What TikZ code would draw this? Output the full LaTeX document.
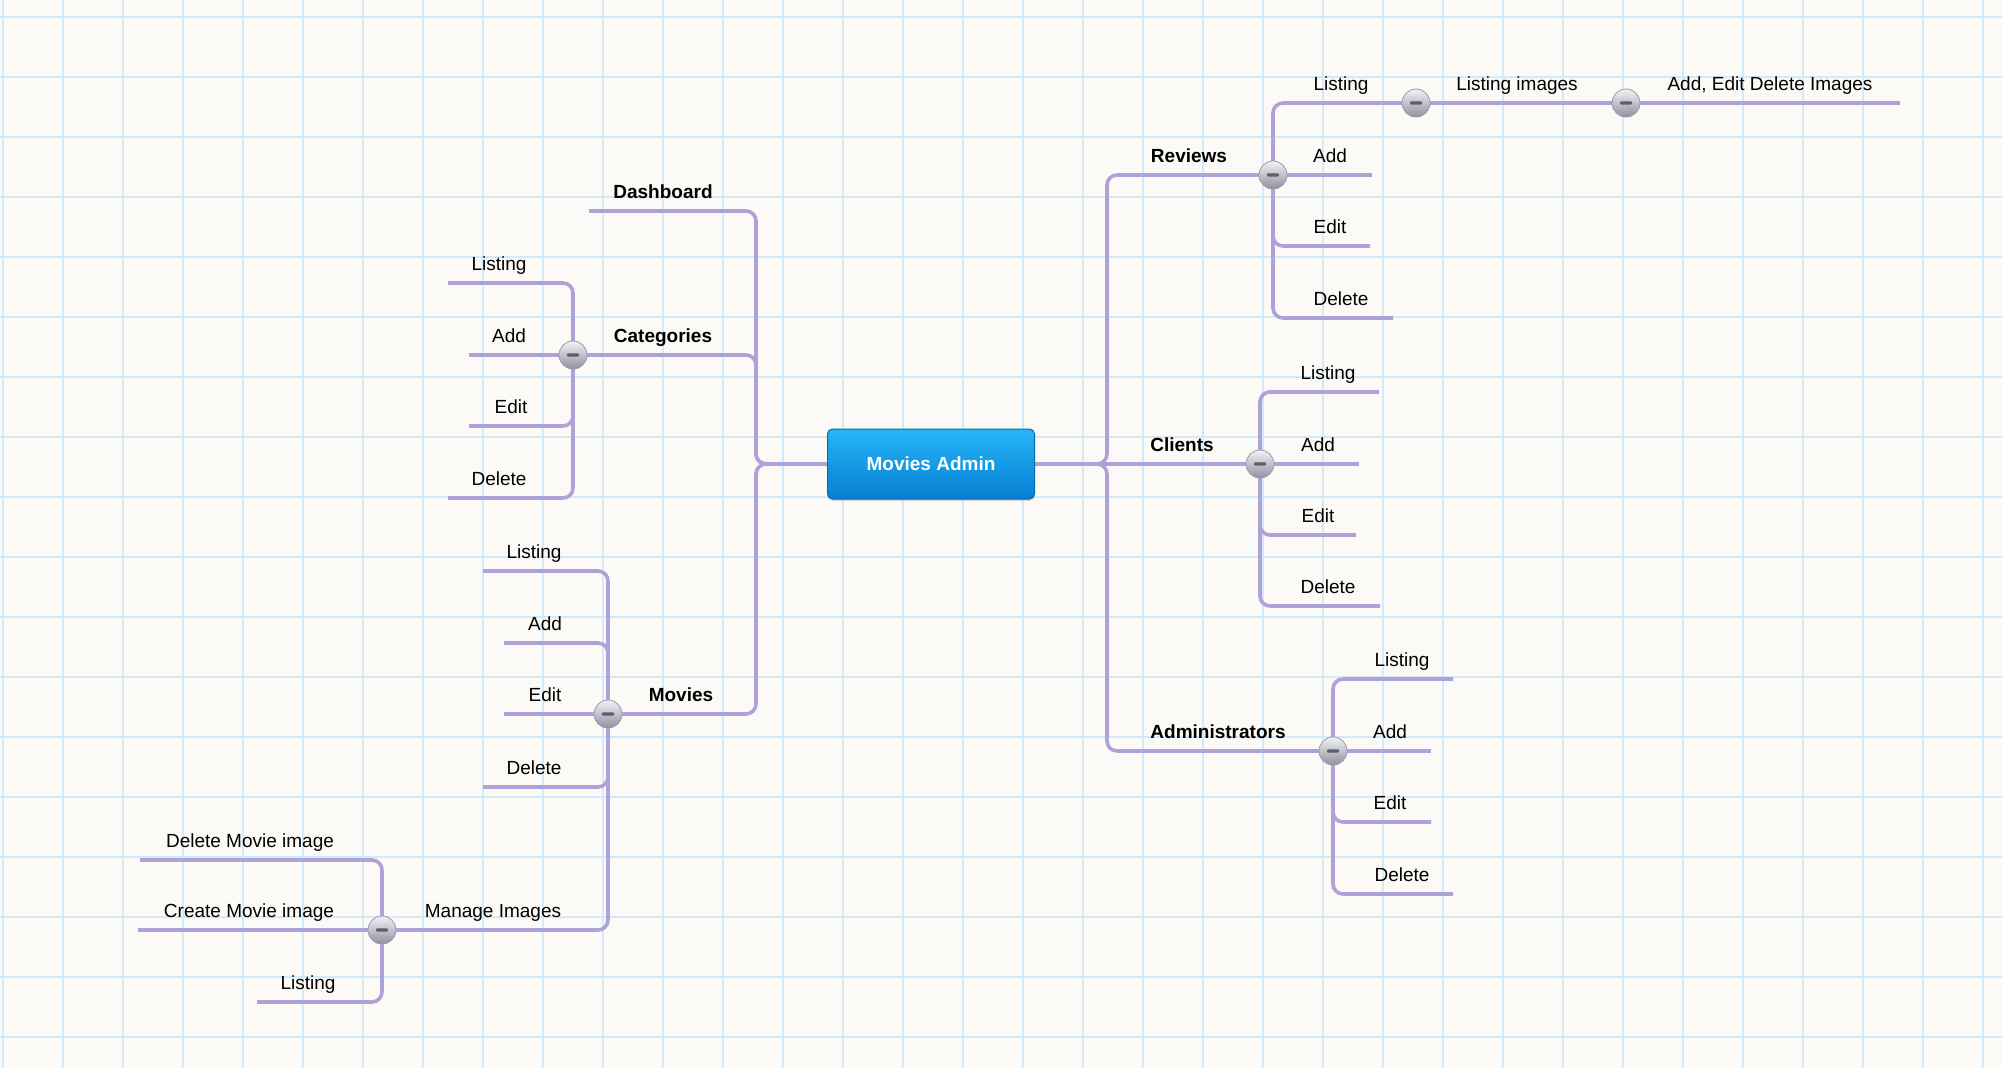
\documentclass[tikz,border=0pt]{standalone}
\usepackage{fontspec}
\setmainfont{Liberation Sans}
\usetikzlibrary{shadows}
\definecolor{bgc}{HTML}{FBFAF6}
\definecolor{gridc}{HTML}{D3EAFA}
\definecolor{linec}{HTML}{B0A2D8}
\definecolor{knobtop}{HTML}{F2F2F5}
\definecolor{knobbot}{HTML}{9090A0}
\definecolor{knobedge}{HTML}{9A9AAA}
\definecolor{knobbar}{HTML}{5E5E6C}
\definecolor{roottop}{HTML}{26B6F6}
\definecolor{rootbot}{HTML}{067FD3}
\definecolor{rootedge}{HTML}{0A68AA}
\pgfdeclarelayer{bg}
\pgfsetlayers{bg,main}
\begin{document}
\begin{tikzpicture}[x=1pt,y=-1pt,
  conn/.style={draw=linec, line width=3.6pt, rounded corners=10pt},
  lbl/.style={anchor=base, inner sep=0pt, font=\fontsize{19}{23}\selectfont},
  plbl/.style={anchor=base, inner sep=0pt, font=\fontsize{19}{23}\selectfont\bfseries},
  knob/.style={circle, minimum size=28pt, inner sep=0pt, draw=knobedge, line width=0.8pt,
    top color=knobtop, bottom color=knobbot,
    path picture={\fill[knobbar, rounded corners=1pt]
      ([xshift=-6pt,yshift=-1.6pt]path picture bounding box.center) rectangle
      ([xshift=6pt,yshift=1.6pt]path picture bounding box.center);}},
  rootbox/.style={rounded corners=5pt, minimum width=207pt, minimum height=70pt,
    top color=roottop, bottom color=rootbot, draw=rootedge, line width=1pt,
    text=white, font=\fontsize{19}{23}\selectfont\bfseries,
    drop shadow={opacity=0.25, shadow xshift=0pt, shadow yshift=-2pt}}
]
\useasboundingbox (0,0) rectangle (2002,1068);

% ---------- root ----------
\node[rootbox] (root) at (931,464) {Movies Admin};

% ---------- knobs ----------
\node[knob] (catC) at (573,355) {};
\node[knob] (movC) at (608,714) {};
\node[knob] (mgC)  at (382,930) {};
\node[knob] (revC) at (1273,175) {};
\node[knob] (lstC) at (1416,103) {};
\node[knob] (liC)  at (1626,103) {};
\node[knob] (cliC) at (1260,464) {};
\node[knob] (admC) at (1333,751) {};

% ---------- free ends ----------
\coordinate (dashE) at (589,211);
\coordinate (catL) at (448,283);
\coordinate (catA) at (469,355);
\coordinate (catE) at (469,426);
\coordinate (catD) at (448,498);
\coordinate (movL) at (483,571);
\coordinate (movA) at (504,643);
\coordinate (movE) at (504,714);
\coordinate (movD) at (483,787);
\coordinate (mgD) at (140,860);
\coordinate (mgCr) at (138,930);
\coordinate (mgL) at (257,1002);
\coordinate (aedE) at (1900,103);
\coordinate (revA) at (1372,175);
\coordinate (revE) at (1370,246);
\coordinate (revD) at (1393,318);
\coordinate (cliL) at (1379,392);
\coordinate (cliA) at (1359,464);
\coordinate (cliE) at (1356,535);
\coordinate (cliD) at (1380,606);
\coordinate (admL) at (1453,679);
\coordinate (admA) at (1431,751);
\coordinate (admE) at (1431,822);
\coordinate (admD) at (1453,894);

% ---------- labels ----------
\node[plbl] (tDash) at (663,198) {Dashboard};
\node[plbl] (tCat) at (663,342) {Categories};
\node[lbl] (tCatL) at (499,270) {Listing};
\node[lbl] (tCatA) at (509,342) {Add};
\node[lbl] (tCatE) at (511,413) {Edit};
\node[lbl] (tCatD) at (499,485) {Delete};
\node[plbl] (tMov) at (681,701) {Movies};
\node[lbl] (tMovL) at (534,558) {Listing};
\node[lbl] (tMovA) at (545,630) {Add};
\node[lbl] (tMovE) at (545,701) {Edit};
\node[lbl] (tMovD) at (534,774) {Delete};
\node[lbl] (tMg) at (493,917) {Manage Images};
\node[lbl] (tMgD) at (250,847) {Delete Movie image};
\node[lbl] (tMgC) at (249,917) {Create Movie image};
\node[lbl] (tMgL) at (308,989) {Listing};

\node[plbl] (tRev) at (1189,162) {Reviews};
\node[lbl] (tRevL) at (1341,90) {Listing};
\node[lbl] (tLi) at (1517,90) {Listing images};
\node[lbl] (tAed) at (1770,90) {Add, Edit Delete Images};
\node[lbl] (tRevA) at (1330,162) {Add};
\node[lbl] (tRevE) at (1330,233) {Edit};
\node[lbl] (tRevD) at (1341,305) {Delete};
\node[plbl] (tCli) at (1182,451) {Clients};
\node[lbl] (tCliL) at (1328,379) {Listing};
\node[lbl] (tCliA) at (1318,451) {Add};
\node[lbl] (tCliE) at (1318,522) {Edit};
\node[lbl] (tCliD) at (1328,593) {Delete};
\node[plbl] (tAdm) at (1218,738) {Administrators};
\node[lbl] (tAdmL) at (1402,666) {Listing};
\node[lbl] (tAdmA) at (1390,738) {Add};
\node[lbl] (tAdmE) at (1390,809) {Edit};
\node[lbl] (tAdmD) at (1402,881) {Delete};

\begin{pgfonlayer}{bg}
  \fill[bgc] (0,0) rectangle (2002,1068);
  \foreach \gx in {3,63,...,2003} \draw[gridc, line width=1.6pt] (\gx,0) -- (\gx,1068);
  \foreach \gy in {17,77,...,1067} \draw[gridc, line width=1.6pt] (0,\gy) -- (2002,\gy);

  % left main branches
  \draw[conn] (root.west) -- (756,464) -- (756,211) -- (dashE);
  \draw[conn] (root.west) -- (756,464) -- (756,355) -- (catC.center);
  \draw[conn] (root.west) -- (756,464) -- (756,714) -- (movC.center);
  % categories
  \draw[conn] (catC.center) -- (573,283) -- (catL);
  \draw[conn] (catC.center) -- (catA);
  \draw[conn] (catC.center) -- (573,426) -- (catE);
  \draw[conn] (catC.center) -- (573,498) -- (catD);
  % movies
  \draw[conn] (movC.center) -- (608,571) -- (movL);
  \draw[conn] (movC.center) -- (608,643) -- (movA);
  \draw[conn] (movC.center) -- (movE);
  \draw[conn] (movC.center) -- (608,787) -- (movD);
  \draw[conn] (movC.center) -- (608,930) -- (mgC.center);
  % manage images
  \draw[conn] (mgC.center) -- (382,860) -- (mgD);
  \draw[conn] (mgC.center) -- (mgCr);
  \draw[conn] (mgC.center) -- (382,1002) -- (mgL);

  % right main branches
  \draw[conn] (root.east) -- (1107,464) -- (1107,175) -- (revC.center);
  \draw[conn] (root.east) -- (cliC.center);
  \draw[conn] (root.east) -- (1107,464) -- (1107,751) -- (admC.center);
  % reviews
  \draw[conn] (revC.center) -- (1273,103) -- (lstC.center);
  \draw[conn] (lstC.center) -- (liC.center);
  \draw[conn] (liC.center) -- (aedE);
  \draw[conn] (revC.center) -- (revA);
  \draw[conn] (revC.center) -- (1273,246) -- (revE);
  \draw[conn] (revC.center) -- (1273,318) -- (revD);
  % clients
  \draw[conn] (cliC.center) -- (1260,392) -- (cliL);
  \draw[conn] (cliC.center) -- (cliA);
  \draw[conn] (cliC.center) -- (1260,535) -- (cliE);
  \draw[conn] (cliC.center) -- (1260,606) -- (cliD);
  % administrators
  \draw[conn] (admC.center) -- (1333,679) -- (admL);
  \draw[conn] (admC.center) -- (admA);
  \draw[conn] (admC.center) -- (1333,822) -- (admE);
  \draw[conn] (admC.center) -- (1333,894) -- (admD);
\end{pgfonlayer}
\end{tikzpicture}
\end{document}
